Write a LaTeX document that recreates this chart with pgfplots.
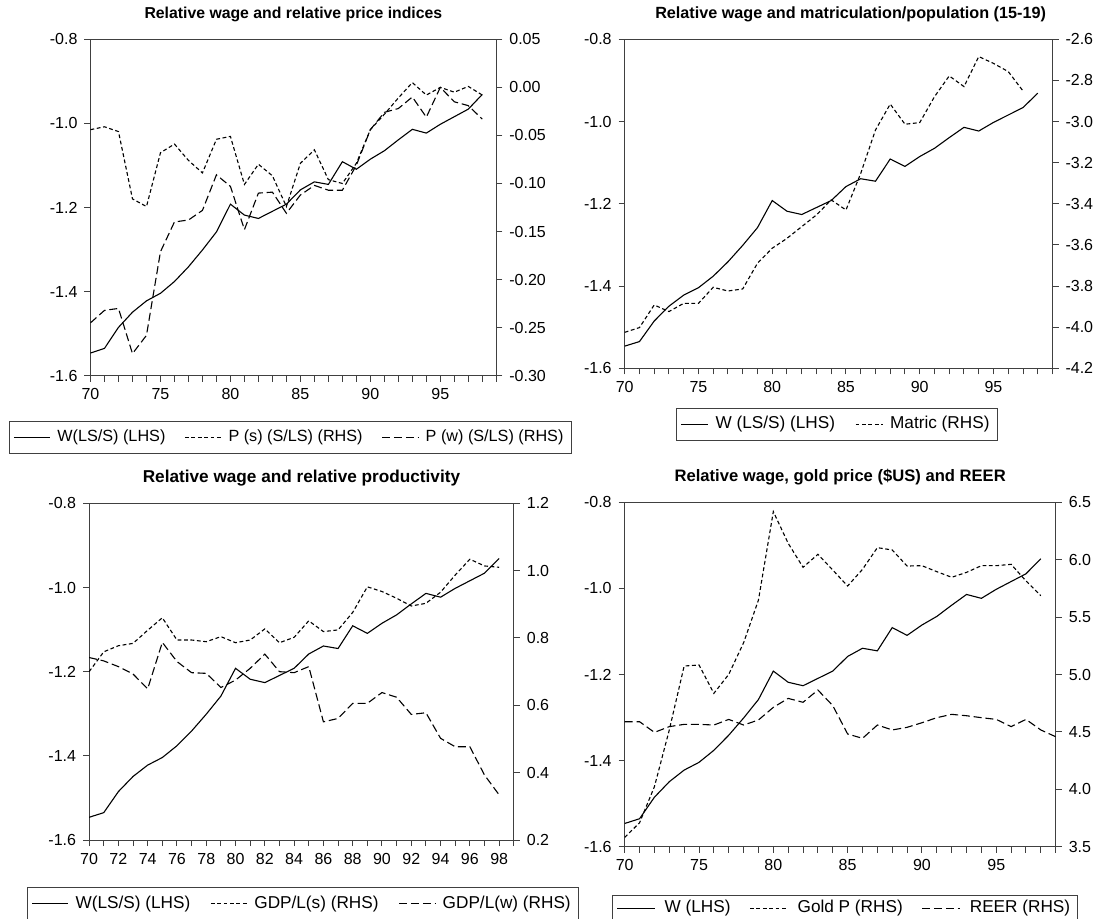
\documentclass[border=0pt]{standalone}
\usepackage{fontspec}
\setmainfont{Liberation Sans}
\usepackage{pgfplots}
\usepackage{pgfplotstable}
\pgfplotsset{compat=1.18}

% Annual series, 1970-1999
\pgfplotstableread{
yr  W       Ps      Pw      Matric  GDPs   GDPw   Gold   REER
70  -1.546  -0.044  -0.245  -4.025  0.700  0.742  3.581  4.589
71  -1.535  -0.041  -0.232  -4.002  0.759  0.732  3.709  4.589
72  -1.485  -0.046  -0.230  -3.892  0.777  0.715  4.023  4.496
73  -1.449  -0.116  -0.277  -3.924  0.784  0.693  4.517  4.546
74  -1.422  -0.124  -0.258  -3.884  0.823  0.649  5.074  4.566
75  -1.404  -0.068  -0.171  -3.884  0.860  0.787  5.083  4.566
76  -1.376  -0.059  -0.140  -3.806  0.794  0.730  4.836  4.560
77  -1.341  -0.076  -0.138  -3.824  0.794  0.697  5.001  4.609
78  -1.301  -0.089  -0.128  -3.814  0.789  0.695  5.277  4.560
79  -1.258  -0.054  -0.091  -3.689  0.804  0.653  5.649  4.604
80  -1.192  -0.051  -0.103  -3.616  0.786  0.675  6.419  4.714
81  -1.218  -0.101  -0.148  -3.568  0.794  0.710  6.143  4.792
82  -1.226  -0.080  -0.110  -3.511  0.827  0.752  5.934  4.758
83  -1.209  -0.092  -0.109  -3.454  0.786  0.700  6.047  4.865
84  -1.192  -0.124  -0.131  -3.381  0.802  0.697  5.910  4.729
85  -1.158  -0.079  -0.112  -3.430  0.851  0.715  5.771  4.482
86  -1.139  -0.065  -0.102  -3.252  0.819  0.551  5.916  4.444
87  -1.145  -0.096  -0.107  -3.041  0.824  0.561  6.105  4.560
88  -1.091  -0.100  -0.107  -2.915  0.876  0.606  6.085  4.517
89  -1.109  -0.079  -0.081  -3.013  0.952  0.606  5.945  4.540
90  -1.085  -0.044  -0.044  -3.005  0.938  0.638  5.948  4.580
91  -1.065  -0.028  -0.026  -2.879  0.918  0.624  5.896  4.624
92  -1.039  -0.011  -0.022  -2.778  0.895  0.573  5.847  4.653
93  -1.014   0.005  -0.010  -2.830  0.903  0.578  5.890  4.641
94  -1.023  -0.008  -0.031  -2.684  0.936  0.502  5.948  4.624
95  -1.002   0.000   0.000  -2.717  0.987  0.477  5.948  4.609
96  -0.984  -0.005  -0.015  -2.757  1.034  0.477  5.960  4.546
97  -0.966   0.001  -0.019  -2.851  1.014  0.393  5.815  4.609
98  -0.931  -0.008  -0.033   nan    1.010  0.334  5.687  4.517
99   nan     nan     nan     nan    nan    nan    nan    4.458
}\data

\tikzset{
  shortdash/.style={dash pattern=on 1.9pt off 1.3pt},
  longdash/.style={dash pattern=on 4pt off 1.9pt},
  ser/.style={black, line width=0.55pt},
}

\pgfplotsset{
  evbase/.style={
    scale only axis,
    xmin=70, xmax=99,
    axis line style={black!75, line width=0.5pt},
    every tick/.style={black!75, line width=0.5pt},
    tick align=outside,
    major tick length=3pt, minor tick length=3pt,
    tick label style={font=\fontsize{8}{9}\selectfont},
    title style={font=\bfseries\fontsize{7.9}{9}\selectfont,
      at={(0.5,1)}, anchor=base, yshift=4.6pt},
    legend image code/.code={\draw[##1, line width=0.55pt] (0pt,0pt) -- (18pt,0pt);},
  },
  lhs/.style={
    evbase,
    ymin=-1.6, ymax=-0.8,
    ytick={-1.6,-1.4,-1.2,-1.0,-0.8},
    yticklabels={-1.6,-1.4,-1.2,-1.0,-0.8},
    ytick pos=left, xtick pos=bottom,
  },
  yr5/.style={
    xtick={70,75,80,85,90,95}, xticklabels={70,75,80,85,90,95},
    minor xtick={71,72,73,74,76,77,78,79,81,82,83,84,86,87,88,89,91,92,93,94,96,97,98,99},
  },
  yr2/.style={
    xtick={70,72,...,98}, xticklabels={70,72,74,76,78,80,82,84,86,88,90,92,94,96,98},
    minor xtick={71,73,...,99},
  },
  rhs/.style={
    evbase,
    axis y line*=right, axis x line=none,
    legend columns=-1,
    legend style={anchor=north west, draw=black!75, line width=0.5pt,
      font=\fontsize{8.6}{10}\selectfont, inner xsep=2pt, inner ysep=2.2pt,
      /tikz/every odd column/.append style={column sep=1.5pt},
      /tikz/every even column/.append style={column sep=8pt}},
  },
}

\begin{document}
\begin{tikzpicture}
\useasboundingbox (0pt,-459pt) rectangle (546.5pt,0pt);

% ---- Relative wage and relative price indices
\begin{axis}[lhs, yr5, at={(45.25pt,-187.85pt)}, anchor=south west,
  width=202.9pt, height=168.2pt,
  title={Relative wage and relative price indices}]
  \addplot[ser] table[x=yr, y=W] {\data};
\end{axis}
\begin{axis}[rhs, at={(45.25pt,-187.85pt)}, anchor=south west,
  width=202.9pt, height=168.2pt,
  ymin=-0.30, ymax=0.05,
  ytick={-0.30,-0.25,-0.20,-0.15,-0.10,-0.05,0,0.05},
  yticklabels={-0.30,-0.25,-0.20,-0.15,-0.10,-0.05,0.00,0.05},
  legend style={at={(axis description cs:-0.2013,-0.1347)},
    font=\fontsize{8.1}{9.5}\selectfont,
    /tikz/every even column/.append style={column sep=7.5pt}}]
  \addlegendimage{ser}
  \addlegendentry{W(LS/S) (LHS)}
  \addplot[ser, shortdash] table[x=yr, y=Ps] {\data};
  \addlegendentry{P (s) (S/LS) (RHS)}
  \addplot[ser, longdash] table[x=yr, y=Pw] {\data};
  \addlegendentry{P (w) (S/LS) (RHS)}
\end{axis}

% ---- Relative wage and matriculation/population (15-19)
\begin{axis}[lhs, yr5, at={(312.35pt,-184.15pt)}, anchor=south west,
  width=213.9pt, height=164.5pt,
  title style={xshift=6pt, font=\bfseries\fontsize{8.1}{9}\selectfont},
  title={Relative wage and matriculation/population (15-19)}]
  \addplot[ser] table[x=yr, y=W] {\data};
\end{axis}
\begin{axis}[rhs, at={(312.35pt,-184.15pt)}, anchor=south west,
  width=213.9pt, height=164.5pt,
  ymin=-4.2, ymax=-2.6,
  ytick={-4.2,-4.0,-3.8,-3.6,-3.4,-3.2,-3.0,-2.8,-2.6},
  yticklabels={-4.2,-4.0,-3.8,-3.6,-3.4,-3.2,-3.0,-2.8,-2.6},
  legend image code/.code={\draw[#1, line width=0.55pt] (0pt,0pt) -- (13.5pt,0pt);},
  legend style={at={(axis description cs:0.1199,-0.1195)}}]
  \addlegendimage{ser}
  \addlegendentry{W (LS/S) (LHS)}
  \addplot[ser, shortdash] table[x=yr, y=Matric] {\data};
  \addlegendentry{Matric (RHS)}
\end{axis}

% ---- Relative wage and relative productivity
\begin{axis}[lhs, yr2, at={(44.55pt,-420pt)}, anchor=south west,
  width=212.35pt, height=168.35pt,
  title style={font=\bfseries\fontsize{8.6}{9}\selectfont},
  title={Relative wage and relative productivity}]
  \addplot[ser] table[x=yr, y=W] {\data};
\end{axis}
\begin{axis}[rhs, at={(44.55pt,-420pt)}, anchor=south west,
  width=212.35pt, height=168.35pt,
  ymin=0.2, ymax=1.2,
  ytick={0.2,0.4,0.6,0.8,1.0,1.2},
  yticklabels={0.2,0.4,0.6,0.8,1.0,1.2},
  legend style={at={(axis description cs:-0.1462,-0.1387)}}]
  \addlegendimage{ser}
  \addlegendentry{W(LS/S) (LHS)}
  \addplot[ser, shortdash] table[x=yr, y=GDPs] {\data};
  \addlegendentry{GDP/L(s) (RHS)}
  \addplot[ser, longdash] table[x=yr, y=GDPw] {\data};
  \addlegendentry{GDP/L(w) (RHS)}
\end{axis}

% ---- Relative wage, gold price ($US) and REER
\begin{axis}[lhs, yr5, at={(312.35pt,-423.35pt)}, anchor=south west,
  width=215.5pt, height=172.2pt,
  title style={font=\bfseries\fontsize{8.3}{9}\selectfont},
  title={Relative wage, gold price (\$US) and REER}]
  \addplot[ser] table[x=yr, y=W] {\data};
\end{axis}
\begin{axis}[rhs, at={(312.35pt,-423.35pt)}, anchor=south west,
  width=215.5pt, height=172.2pt,
  ymin=3.5, ymax=6.5,
  ytick={3.5,4.0,4.5,5.0,5.5,6.0,6.5},
  yticklabels={3.5,4.0,4.5,5.0,5.5,6.0,6.5},
  legend image code/.code={\draw[#1, line width=0.55pt] (0pt,0pt) -- (19pt,0pt);},
  legend style={at={(axis description cs:-0.0295,-0.1400)},
    inner ysep=1pt, nodes={inner sep=1.5pt},
    /tikz/every odd column/.append style={column sep=3pt},
    /tikz/every even column/.append style={column sep=8pt}}]
  \addlegendimage{ser}
  \addlegendentry{W (LHS)}
  \addplot[ser, shortdash] table[x=yr, y=Gold] {\data};
  \addlegendentry{Gold P (RHS)}
  \addplot[ser, longdash] table[x=yr, y=REER] {\data};
  \addlegendentry{REER (RHS)}
\end{axis}
\end{tikzpicture}
\end{document}
